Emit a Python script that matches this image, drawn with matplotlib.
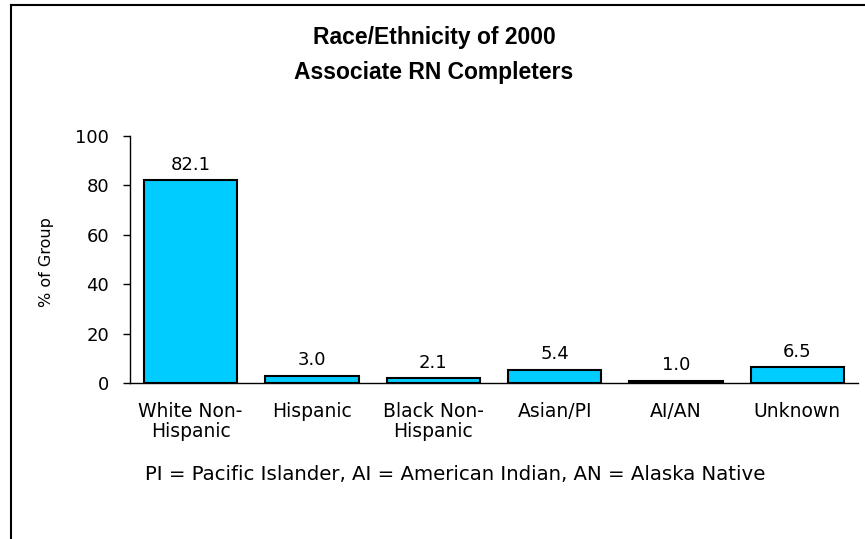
import matplotlib
matplotlib.use("Agg")
import matplotlib.pyplot as plt
from matplotlib.lines import Line2D

categories = ["White Non-\nHispanic", "Hispanic", "Black Non-\nHispanic", "Asian/PI", "AI/AN", "Unknown"]
values = [82.1, 3.0, 2.1, 5.4, 1.0, 6.5]
yticks = [0, 20, 40, 60, 80, 100]

plt.rcParams['font.family'] = ['DejaVu Sans']

fig = plt.figure(figsize=(8.65, 5.39), dpi=100)
ax = fig.add_axes([130/865, 1-383/539, 728/865, 247/539])

x = list(range(len(values)))
ax.bar(x, values, width=0.77, color="#00CCFF", edgecolor="black", linewidth=1.5)
for xi, v in zip(x, values):
    ax.annotate(f"{v:.1f}", (xi, v), xytext=(0, 4.5), textcoords="offset points",
                ha="center", va="bottom", fontsize=13)

ax.set_xlim(-0.5, len(values) - 0.5)
ax.set_ylim(0, 100)
ax.set_yticks(yticks)
ax.set_yticklabels([str(t) for t in yticks], fontsize=13)
ax.set_xticks(x)
ax.set_xticklabels(categories, fontsize=13.5, linespacing=1.05)
ax.tick_params(axis="x", length=0, pad=14)
ax.tick_params(axis="y", length=5, width=1, pad=10)
for s in ["top", "right"]:
    ax.spines[s].set_visible(False)
ax.spines["left"].set_linewidth(1)
ax.spines["bottom"].set_linewidth(1)
ax.set_ylabel("% of Group", fontsize=11.5)
ax.yaxis.set_label_coords(-(130 - 47) / 728, 0.49)
ax.yaxis.label.set_va("center")

fig.text(434/865, 1 - 55/539, "Race/Ethnicity of 2000\nAssociate RN Completers", ha="center", va="center",
         fontsize=16.5, fontweight="bold", linespacing=1.65, family="Liberation Sans")
fig.text(455/865, 1 - 475/539, "PI = Pacific Islander, AI = American Indian, AN = Alaska Native",
         ha="center", va="center", fontsize=14.2)

# figure frame (left and top)
fig.add_artist(Line2D([11/865, 11/865], [0, 1 - 5/539], transform=fig.transFigure, color="black", linewidth=1.5))
fig.add_artist(Line2D([11/865, 1], [1 - 5/539, 1 - 5/539], transform=fig.transFigure, color="black", linewidth=1.5))

fig.savefig("out.png", dpi=100)
